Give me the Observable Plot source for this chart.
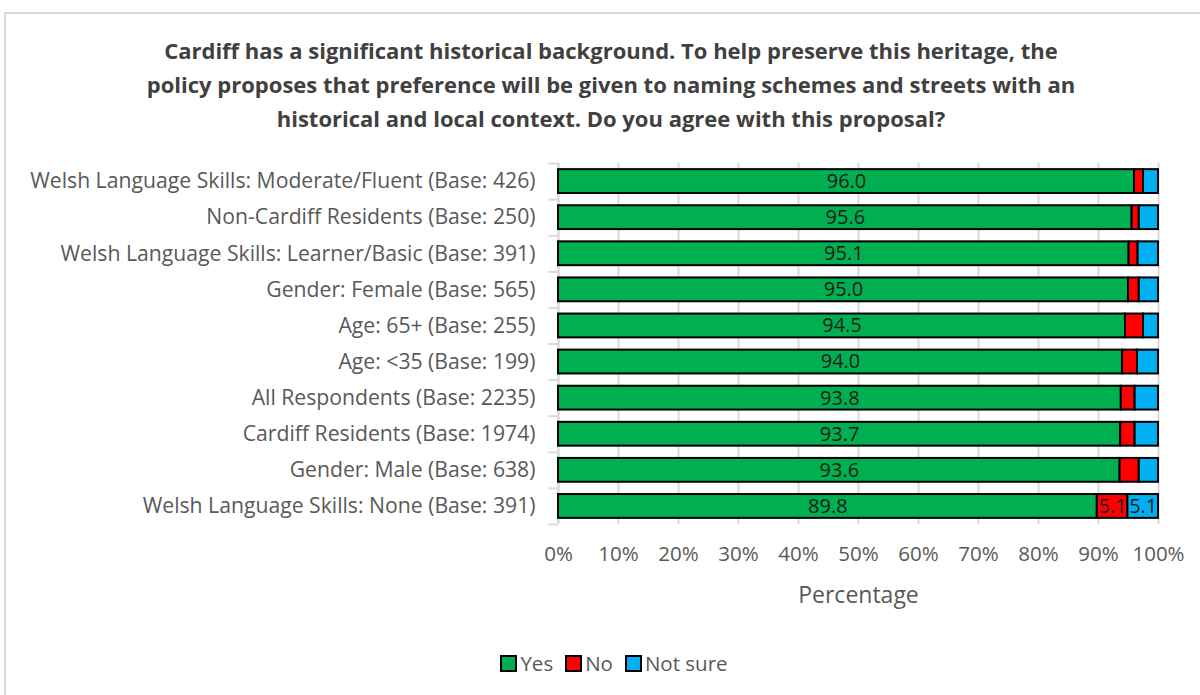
<!DOCTYPE html>
<html>
<head>
<meta charset="utf-8">
<script src="https://cdn.jsdelivr.net/npm/d3@7"></script>
<script src="https://cdn.jsdelivr.net/npm/@observablehq/plot@0.6"></script>
<style>
  body { margin: 0; background: #fff; font-family: "Open Sans", sans-serif; }
  #frame { position: absolute; left: 4px; top: 12px; width: 1200px; height: 700px; border: 2px solid #d9d9d9; box-sizing: border-box; }
  #title { position: absolute; left: 0; top: 33px; width: 1222px; text-align: center; font-weight: bold; font-size: 22px; line-height: 34px; color: #404040; }
  #chart { position: absolute; left: 0; top: 140px; }
  #legend { position: absolute; left: 0; top: 649px; width: 1228px; text-align: center; font-size: 20.5px; color: #595959; }
  #legend span.item { margin: 0 6px; }
  #legend span.sw { display: inline-block; width: 13px; height: 13px; border: 2px solid #000; vertical-align: -1px; margin-right: 3px; }
</style>
</head>
<body>
<div id="frame"></div>
<div id="title">Cardiff has a significant historical background. To help preserve this heritage, the<br>policy proposes that preference will be given to naming schemes and streets with an<br>historical and local context. Do you agree with this proposal?</div>
<div id="chart"></div>
<div id="legend"></div>
<script>
const categories = [
  "Welsh Language Skills: Moderate/Fluent (Base: 426)",
  "Non-Cardiff Residents (Base: 250)",
  "Welsh Language Skills: Learner/Basic (Base: 391)",
  "Gender: Female (Base: 565)",
  "Age: 65+ (Base: 255)",
  "Age: <35 (Base: 199)",
  "All Respondents (Base: 2235)",
  "Cardiff Residents (Base: 1974)",
  "Gender: Male (Base: 638)",
  "Welsh Language Skills: None (Base: 391)"
];
const yesValues     = [96.0, 95.6, 95.1, 95.0, 94.5, 94.0, 93.8, 93.7, 93.6, 89.8];
const noValues      = [1.5, 1.2, 1.5, 1.8, 3.0, 2.5, 2.3, 2.4, 3.2, 5.1];
const notSureValues = [2.5, 3.2, 3.4, 3.2, 2.5, 3.5, 3.9, 3.9, 3.2, 5.1];
const responses = ["Yes", "No", "Not sure"];
const colors = ["#00B050", "#FF0000", "#00B0F0"];
const xTicks = [0, 10, 20, 30, 40, 50, 60, 70, 80, 90, 100];

const rows = [];
categories.forEach((c, i) => {
  rows.push({cat: c, resp: "Yes", value: yesValues[i]});
  rows.push({cat: c, resp: "No", value: noValues[i]});
  rows.push({cat: c, resp: "Not sure", value: notSureValues[i]});
});

const chart = Plot.plot({
  width: 1200,
  height: 480,
  marginLeft: 558,
  marginRight: 42,
  marginTop: 23,
  marginBottom: 96,
  style: {fontFamily: "'Open Sans', sans-serif", fontSize: "20.5px", color: "#595959", background: "transparent"},
  x: {domain: [0, 100], ticks: xTicks, tickFormat: d => d + "%", tickSize: 0, tickPadding: 22, label: "Percentage", labelArrow: "none", labelAnchor: "center", labelOffset: 78},
  y: {domain: categories, paddingInner: 0.34, paddingOuter: 0.17, round: false, tickSize: 0, tickPadding: 23, label: null},
  color: {domain: responses, range: colors},
  marks: [
    Plot.gridX(xTicks, {stroke: "#d9d9d9", strokeOpacity: 1, strokeWidth: 2}),
    Plot.ruleX([0], {stroke: "#d9d9d9", strokeWidth: 2}),
    Plot.ruleY(categories, {y: d => d, x1: -1.6, x2: 0, dy: -18, stroke: "#d9d9d9", strokeWidth: 2}),
    Plot.ruleY([categories[categories.length - 1]], {y: d => d, x1: -1.6, x2: 0, dy: 18, stroke: "#d9d9d9", strokeWidth: 2}),
    Plot.barX(rows, Plot.stackX({x: "value", y: "cat", fill: "resp", stroke: "#000", strokeWidth: 2})),
    Plot.text(rows, Plot.stackX({
      x: "value", y: "cat",
      text: d => (d.resp === "Yes" || d.value >= 5) ? d.value.toFixed(1) : "",
      fill: "#1a1a1a", fontSize: 20
    }))
  ]
});
chart.querySelectorAll("[aria-label='y-axis tick label']").forEach(el => el.setAttribute("font-size", "21.2px"));
chart.querySelectorAll("[aria-label='x-axis label']").forEach(el => el.setAttribute("font-size", "23px"));
document.getElementById("chart").appendChild(chart);

const legend = document.getElementById("legend");
responses.forEach((r, i) => {
  const item = document.createElement("span");
  item.className = "item";
  const sw = document.createElement("span");
  sw.className = "sw";
  sw.style.background = colors[i];
  item.appendChild(sw);
  item.appendChild(document.createTextNode(r));
  legend.appendChild(item);
});
</script>
</body>
</html>
